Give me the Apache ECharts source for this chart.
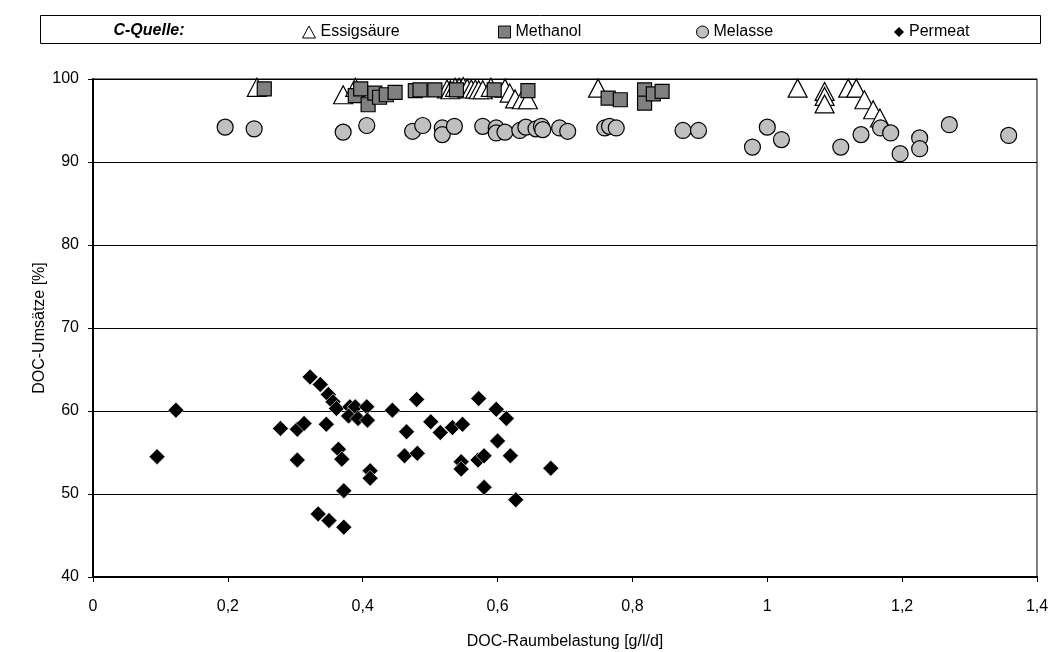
<!DOCTYPE html>
<html><head><meta charset="utf-8">
<script src="https://cdn.jsdelivr.net/npm/echarts@6/dist/echarts.min.js"></script>
<style>html,body{margin:0;padding:0;background:#fff}#c{width:1053px;height:652px}</style>
</head><body><div id="c"></div>
<script>
const xTicks = [0, 0.2, 0.4, 0.6, 0.8, 1, 1.2, 1.4];
const yTicks = [40, 50, 60, 70, 80, 90, 100];
const legendTitle = 'C-Quelle:';
const seriesNames = ['Essigsäure', 'Methanol', 'Melasse', 'Permeat'];

const essigsaeure = [[0.243,99.0],[0.371,98.1],[0.389,99.0],[0.525,98.8],[0.530,98.7],[0.537,99.0],[0.543,99.0],[0.549,99.1],[0.555,98.9],[0.561,98.8],[0.567,98.8],[0.572,98.7],[0.578,98.7],[0.590,99.0],[0.611,98.9],[0.618,98.3],[0.626,97.6],[0.636,97.5],[0.645,97.5],[0.749,98.9],[1.045,98.9],[1.085,98.5],[1.085,97.9],[1.085,97.0],[1.120,98.9],[1.132,98.9],[1.144,97.5],[1.157,96.3],[1.167,95.3]];
const methanol = [[0.254,98.8],[0.389,98.0],[0.397,98.8],[0.408,96.9],[0.418,98.3],[0.425,97.8],[0.435,98.1],[0.448,98.4],[0.478,98.6],[0.485,98.7],[0.507,98.7],[0.539,98.7],[0.595,98.7],[0.645,98.6],[0.764,97.7],[0.782,97.5],[0.818,98.7],[0.818,97.1],[0.831,98.2],[0.844,98.5]];
const melasse = [[0.196,94.2],[0.239,94.0],[0.371,93.6],[0.406,94.4],[0.474,93.7],[0.489,94.4],[0.518,94.1],[0.518,93.3],[0.536,94.3],[0.578,94.3],[0.598,94.1],[0.598,93.5],[0.611,93.6],[0.633,93.8],[0.642,94.2],[0.657,94.0],[0.665,94.3],[0.667,93.9],[0.692,94.1],[0.704,93.7],[0.759,94.1],[0.766,94.3],[0.776,94.1],[0.875,93.8],[0.898,93.8],[0.978,91.8],[1.0,94.2],[1.021,92.7],[1.109,91.8],[1.139,93.3],[1.168,94.1],[1.183,93.5],[1.197,91.0],[1.226,92.9],[1.226,91.6],[1.270,94.5],[1.358,93.2]];
const permeat = [[0.095,54.5],[0.123,60.1],[0.278,57.9],[0.303,57.8],[0.313,58.5],[0.303,54.1],[0.322,64.1],[0.337,63.2],[0.349,62.0],[0.356,61.1],[0.361,60.3],[0.346,58.4],[0.364,55.4],[0.369,54.2],[0.334,47.6],[0.350,46.8],[0.372,46.0],[0.372,50.4],[0.381,60.5],[0.389,60.5],[0.379,59.4],[0.393,59.1],[0.406,60.5],[0.407,58.9],[0.411,52.8],[0.411,51.9],[0.444,60.1],[0.465,57.5],[0.462,54.6],[0.480,61.4],[0.481,54.9],[0.501,58.7],[0.515,57.4],[0.533,58.0],[0.548,58.4],[0.546,53.9],[0.546,53.0],[0.572,61.5],[0.571,54.1],[0.580,54.6],[0.580,50.8],[0.598,60.2],[0.613,59.1],[0.600,56.4],[0.619,54.6],[0.627,49.3],[0.679,53.1]];

const FONT = '"Liberation Sans", Arial, sans-serif';
const FS = 16;
const fmt = v => String(+(+v).toFixed(1)).replace('.', ',');
const chart = echarts.init(document.getElementById('c'), null, {renderer: 'canvas'});

const styles = [
  {symbol: 'triangle', size: [19, 18], item: {color: '#ffffff', borderColor: '#000', borderWidth: 1.2, opacity: 1}},
  {symbol: 'rect', size: 14, item: {color: '#808080', borderColor: '#000', borderWidth: 1.2, opacity: 1}},
  {symbol: 'circle', size: 16, item: {color: '#c0c0c0', borderColor: '#000', borderWidth: 1.2, opacity: 1}},
  {symbol: 'diamond', size: 16, item: {color: '#000000', borderColor: '#ffffff', borderWidth: 0.6, opacity: 1}}
];
const legendIcon = [
  {w: 13, h: 12, item: {color: '#ffffff', borderColor: '#000', borderWidth: 1, opacity: 1}},
  {w: 12, h: 12, item: {color: '#808080', borderColor: '#000', borderWidth: 1, opacity: 1}},
  {w: 12, h: 12, item: {color: '#c0c0c0', borderColor: '#000', borderWidth: 1, opacity: 1}},
  {w: 10, h: 10, item: {color: '#000000', borderColor: '#000', borderWidth: 0, opacity: 1}}
];
const datasets = [essigsaeure, methanol, melasse, permeat];
const legendLeft = [302, 498, 696, 894];

chart.setOption({
  animation: false,
  backgroundColor: '#fff',
  textStyle: {fontFamily: FONT},
  grid: {left: 93, right: 16, top: 79, bottom: 75, outerBoundsMode: 'none', containLabel: false, show: true, borderColor: '#000', borderWidth: 1, backgroundColor: 'transparent'},
  graphic: [
    {type: 'rect', shape: {x: 40.5, y: 15.5, width: 1000, height: 28}, style: {fill: '#fff', stroke: '#000', lineWidth: 1}, z: -1},
    {type: 'text', x: 149, y: 31, style: {text: legendTitle, font: 'italic bold 16px ' + FONT, fill: '#000', textAlign: 'center', textVerticalAlign: 'middle'}}
  ],
  legend: seriesNames.map((n, i) => ({
    data: [{name: n, itemStyle: legendIcon[i].item}], left: legendLeft[i], top: 24, padding: 0,
    itemWidth: legendIcon[i].w, itemHeight: legendIcon[i].h, itemGap: 6,
    textStyle: {fontSize: FS, color: '#000', fontFamily: FONT}, selectedMode: false
  })),
  xAxis: {
    type: 'value', min: 0, max: 1.4, interval: 0.2,
    name: 'DOC-Raumbelastung [g/l/d]', nameLocation: 'middle', nameGap: 57, nameMoveOverlap: false,
    nameTextStyle: {fontSize: FS, color: '#000', fontFamily: FONT},
    axisLine: {show: true, onZero: false, lineStyle: {color: '#000', width: 2}},
    axisTick: {show: true, inside: false, length: 5, lineStyle: {color: '#000'}},
    axisLabel: {fontSize: FS, color: '#000', margin: 22, formatter: fmt, fontFamily: FONT},
    splitLine: {show: false}
  },
  yAxis: {
    type: 'value', min: 40, max: 100, interval: 10,
    name: 'DOC-Umsätze [%]', nameLocation: 'middle', nameGap: 45, nameRotate: 90, nameMoveOverlap: false,
    nameTextStyle: {fontSize: FS, color: '#000', fontFamily: FONT},
    axisLine: {show: true, onZero: false, lineStyle: {color: '#000', width: 2}},
    axisTick: {show: true, inside: false, length: 5, lineStyle: {color: '#000'}},
    axisLabel: {fontSize: FS, color: '#000', margin: 14, fontFamily: FONT},
    splitLine: {show: true, lineStyle: {color: '#000', width: 1}}
  },
  series: seriesNames.map((n, i) => ({
    name: n, type: 'scatter', data: datasets[i],
    symbol: styles[i].symbol, symbolSize: styles[i].size,
    itemStyle: styles[i].item, z: 2 + i, clip: false
  }))
});
</script></body></html>
